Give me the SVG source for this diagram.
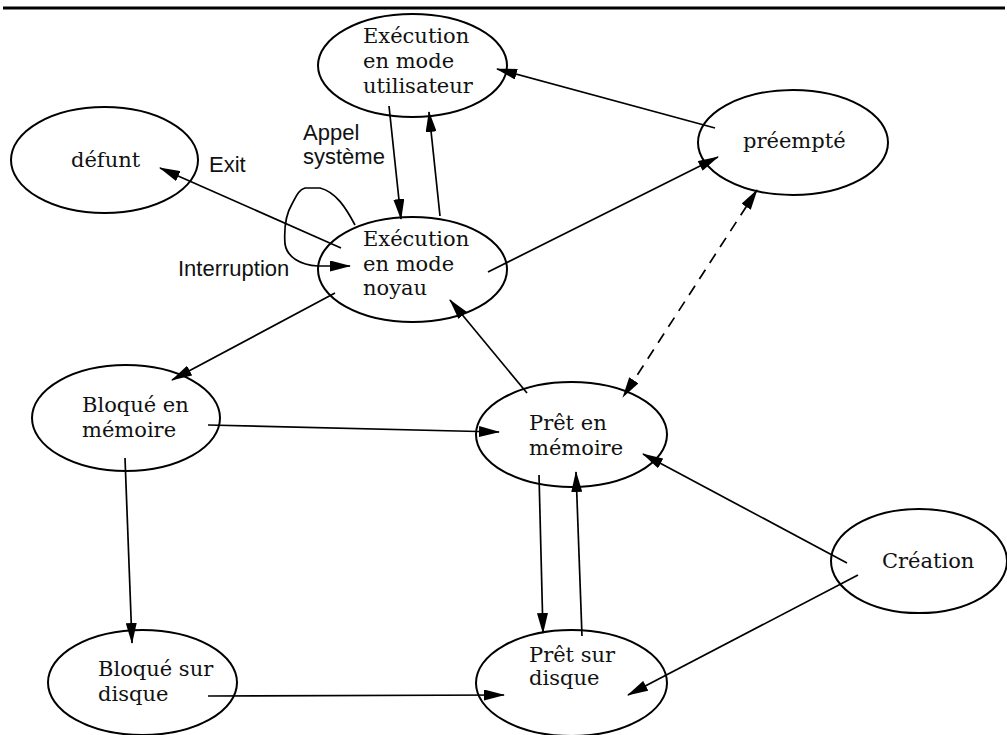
<svg xmlns="http://www.w3.org/2000/svg" width="1007" height="735" viewBox="0 0 1007 735">
<style>
.node ellipse{fill:none;stroke:#000;stroke-width:2}
.node text{font-family:"DejaVu Serif","Liberation Serif",serif;font-size:21px;fill:#111}
.lbl{font-family:"Liberation Sans",Arial,sans-serif;font-size:22px;fill:#111}
.edge{fill:none;stroke:#000;stroke-width:1.7;marker-end:url(#ah)}
.dash{stroke-dasharray:11 8;marker-start:url(#ah)}
</style>
<defs>
<marker id="ah" markerUnits="userSpaceOnUse" markerWidth="21" markerHeight="11" refX="20" refY="5.5" orient="auto-start-reverse">
<path d="M0,0 L21,5.5 L0,11 z" fill="#000"/>
</marker>
</defs>
<rect width="1007" height="735" fill="#fff"/>
<line x1="3" y1="8" x2="1005" y2="8" stroke="#000" stroke-width="3"/>

<g id="n-utilisateur" class="node"><ellipse cx="412.5" cy="65.5" rx="94.5" ry="51.5"/><text x="363" y="43">Exécution</text><text x="363" y="68">en mode</text><text x="363" y="93">utilisateur</text></g>
<g id="n-defunt" class="node"><ellipse cx="104.5" cy="160" rx="93.5" ry="53"/><text x="71" y="167">défunt</text></g>
<g id="n-noyau" class="node"><ellipse cx="412.5" cy="269.5" rx="94.5" ry="52.5"/><text x="363" y="246">Exécution</text><text x="363" y="271">en mode</text><text x="363" y="295">noyau</text></g>
<g id="n-preempte" class="node"><ellipse cx="793" cy="142.5" rx="95" ry="52.5"/><text x="743" y="148">préempté</text></g>
<g id="n-bloque-mem" class="node"><ellipse cx="126" cy="418" rx="94" ry="53"/><text x="82" y="412">Bloqué en</text><text x="82" y="437">mémoire</text></g>
<g id="n-pret-mem" class="node"><ellipse cx="571.5" cy="434.5" rx="95.5" ry="52.5"/><text x="529" y="430">Prêt en</text><text x="529" y="455">mémoire</text></g>
<g id="n-creation" class="node"><ellipse cx="919" cy="561" rx="88" ry="52"/><text x="882" y="568">Création</text></g>
<g id="n-bloque-disque" class="node"><ellipse cx="142.5" cy="682.5" rx="94.5" ry="52.5"/><text x="98" y="676">Bloqué sur</text><text x="98" y="701">disque</text></g>
<g id="n-pret-disque" class="node"><ellipse cx="571.5" cy="683" rx="95.5" ry="53"/><text x="529" y="662">Prêt sur</text><text x="529" y="685">disque</text></g>

<g id="connectors">
<line class="edge" x1="389" y1="106" x2="401" y2="219"/>
<line class="edge" x1="440" y1="216" x2="429" y2="112"/>
<line class="edge" x1="715" y1="128" x2="497" y2="69"/>
<line class="edge" x1="341" y1="248" x2="160" y2="168"/>
<path class="edge" d="M355,225 C346,208 336,192 320,188 L305,188 C298,190 296,197 292,204 C286,214 284,230 285,244 C287,257 300,265 318,266 L350,266"/>
<line class="edge" x1="488" y1="272" x2="718" y2="157"/>
<line class="edge dash" x1="757" y1="190" x2="623" y2="397"/>
<line class="edge" x1="335" y1="293" x2="172" y2="380"/>
<line class="edge" x1="527" y1="393" x2="450" y2="300"/>
<line class="edge" x1="208" y1="425" x2="499" y2="432"/>
<line class="edge" x1="125" y1="458" x2="132" y2="643"/>
<line class="edge" x1="208" y1="696" x2="504" y2="695"/>
<line class="edge" x1="539" y1="475" x2="543" y2="633"/>
<line class="edge" x1="582" y1="636" x2="576" y2="472"/>
<line class="edge" x1="847" y1="563" x2="643" y2="454"/>
<line class="edge" x1="858" y1="575" x2="628" y2="695"/>
<text class="lbl" x="303" y="140">Appel</text>
<text class="lbl" x="303" y="164">système</text>
<text class="lbl" x="209" y="172">Exit</text>
<text class="lbl" x="178" y="276">Interruption</text>
</g>
</svg>
